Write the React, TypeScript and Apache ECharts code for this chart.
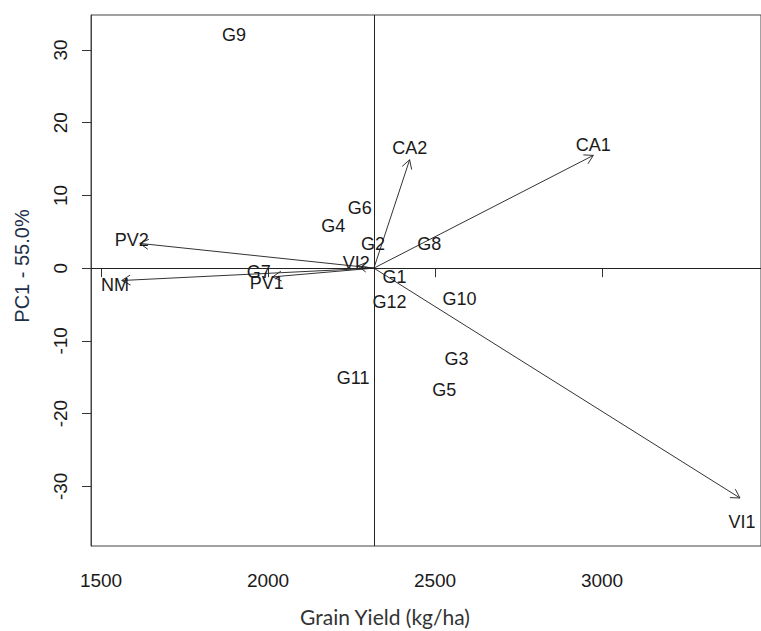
import React, { useEffect, useRef } from "react";
import * as echarts from "echarts";

// Biplot origin (grain yield mean, PC1 = 0)
const originX = 2317;
const originY = 0;

// Trait vectors: arrow tips
const traitNames = ["CA1", "CA2", "VI1", "VI2", "PV1", "PV2", "NM"];
const traitTipX = [2974, 2424, 3413, 2269, 2014, 1616, 1562];
const traitTipY = [15.5, 14.9, -31.6, 0.3, -1.2, 3.4, -1.7];
// Trait label positions
const traitLabelX = [2974, 2424, 3419, 2264, 1996, 1592, 1542];
const traitLabelY = [16.9, 16.5, -34.9, 0.7, -2.1, 3.9, -2.3];

// Genotypes
const genoNames = ["G9", "G6", "G4", "G2", "G8", "G7", "G1", "G12", "G10", "G3", "G5", "G11"];
const genoX = [1898, 2275, 2195, 2314, 2483, 1972, 2379, 2364, 2573, 2564, 2528, 2255];
const genoY = [32.0, 8.3, 5.8, 3.3, 3.3, -0.6, -1.2, -4.7, -4.3, -12.5, -16.8, -15.1];

// Axis ticks
const xTicks = [1500, 2000, 2500, 3000];
const yTicks = [-30, -20, -10, 0, 10, 20, 30];

const xTitle = "Grain Yield (kg/ha)";
const yTitle = "PC1 - 55.0%";

const TEXT_FONT = "Liberation Sans";

export default function App() {
  const ref = useRef<HTMLDivElement>(null);

  useEffect(() => {
    if (!ref.current) return;
    const chart = echarts.init(ref.current, undefined, { renderer: "svg" });

    const labels = [
      ...traitNames.map((n, i) => ({ value: [traitLabelX[i], traitLabelY[i]], name: n })),
      ...genoNames.map((n, i) => ({ value: [genoX[i], genoY[i]], name: n })),
    ];
    const labelNames = labels.map((l) => l.name);

    const option: any = {
      animation: false,
      backgroundColor: "#ffffff",
      grid: {
        left: 91,
        top: 15,
        right: -5,
        bottom: 85,
        show: true,
        borderColor: "#444",
        borderWidth: 1,
        backgroundColor: "transparent",
      },
      graphic: [
        {
          type: "text",
          x: 385,
          y: 616,
          style: {
            text: xTitle,
            fontFamily: "Lato",
            fontSize: 21,
            fill: "#333",
            align: "center",
            verticalAlign: "middle",
          },
        },
        {
          type: "text",
          x: 22,
          y: 266,
          rotation: Math.PI / 2,
          style: {
            text: yTitle,
            fontFamily: TEXT_FONT,
            fontSize: 20,
            fill: "#1f2f4a",
            align: "center",
            verticalAlign: "middle",
          },
        },
      ],
      xAxis: {
        type: "value",
        min: 1470,
        max: 3476,
        axisLine: { show: true, lineStyle: { color: "#444", width: 1 } },
        axisTick: { show: true, length: 9, lineStyle: { color: "#333" }, customValues: xTicks },
        axisLabel: {
          customValues: xTicks,
          formatter: (v: number) => String(v),
          margin: 25,
          fontFamily: TEXT_FONT,
          fontSize: 19,
          color: "#1a1a1a",
        },
        splitLine: { show: false },
      },
      yAxis: {
        type: "value",
        min: -38.2,
        max: 34.8,
        axisLine: { show: true, lineStyle: { color: "#444", width: 1 } },
        axisTick: { show: true, length: 9, lineStyle: { color: "#333" }, customValues: yTicks },
        axisLabel: {
          customValues: yTicks,
          formatter: (v: number) => String(v),
          rotate: 90,
          margin: 21,
          fontFamily: TEXT_FONT,
          fontSize: 19,
          color: "#1a1a1a",
        },
        splitLine: { show: false },
      },
      series: [
        {
          type: "custom",
          name: "traits",
          coordinateSystem: "cartesian2d",
          clip: false,
          silent: true,
          encode: { x: 0, y: 1 },
          data: traitNames.map((n, i) => [traitTipX[i], traitTipY[i]]),
          renderItem: (params: any, api: any) => {
            const o = api.coord([originX, originY]);
            const t = api.coord([api.value(0), api.value(1)]);
            const ang = Math.atan2(t[1] - o[1], t[0] - o[0]);
            const L = 10;
            const a = Math.PI / 6;
            const h1 = [t[0] - L * Math.cos(ang - a), t[1] - L * Math.sin(ang - a)];
            const h2 = [t[0] - L * Math.cos(ang + a), t[1] - L * Math.sin(ang + a)];
            const style = { stroke: "#333", lineWidth: 1, fill: "none" };
            return {
              type: "group",
              children: [
                { type: "line", shape: { x1: o[0], y1: o[1], x2: t[0], y2: t[1] }, style },
                { type: "polyline", shape: { points: [h1, t, h2] }, style },
              ],
            };
          },
          markLine: {
            silent: true,
            symbol: "none",
            label: { show: false },
            lineStyle: { color: "#222", type: "solid", width: 1 },
            data: [{ xAxis: originX }, { yAxis: originY }],
          },
          z: 3,
        },
        {
          type: "custom",
          name: "labels",
          coordinateSystem: "cartesian2d",
          clip: false,
          silent: true,
          encode: { x: 0, y: 1 },
          data: labels.map((l) => l.value),
          renderItem: (params: any, api: any) => {
            const p = api.coord([api.value(0), api.value(1)]);
            return {
              type: "text",
              x: p[0],
              y: p[1],
              style: {
                text: labelNames[params.dataIndex],
                fill: "#1a1a1a",
                fontFamily: TEXT_FONT,
                fontSize: 18,
                align: "center",
                verticalAlign: "middle",
              },
            };
          },
          z: 4,
        },
      ],
    };

    chart.setOption(option);
    return () => chart.dispose();
  }, []);

  return (
    <div
      ref={ref}
      style={{ position: "absolute", left: 0, top: 0, width: 761, height: 631, background: "#fff" }}
    />
  );
}
